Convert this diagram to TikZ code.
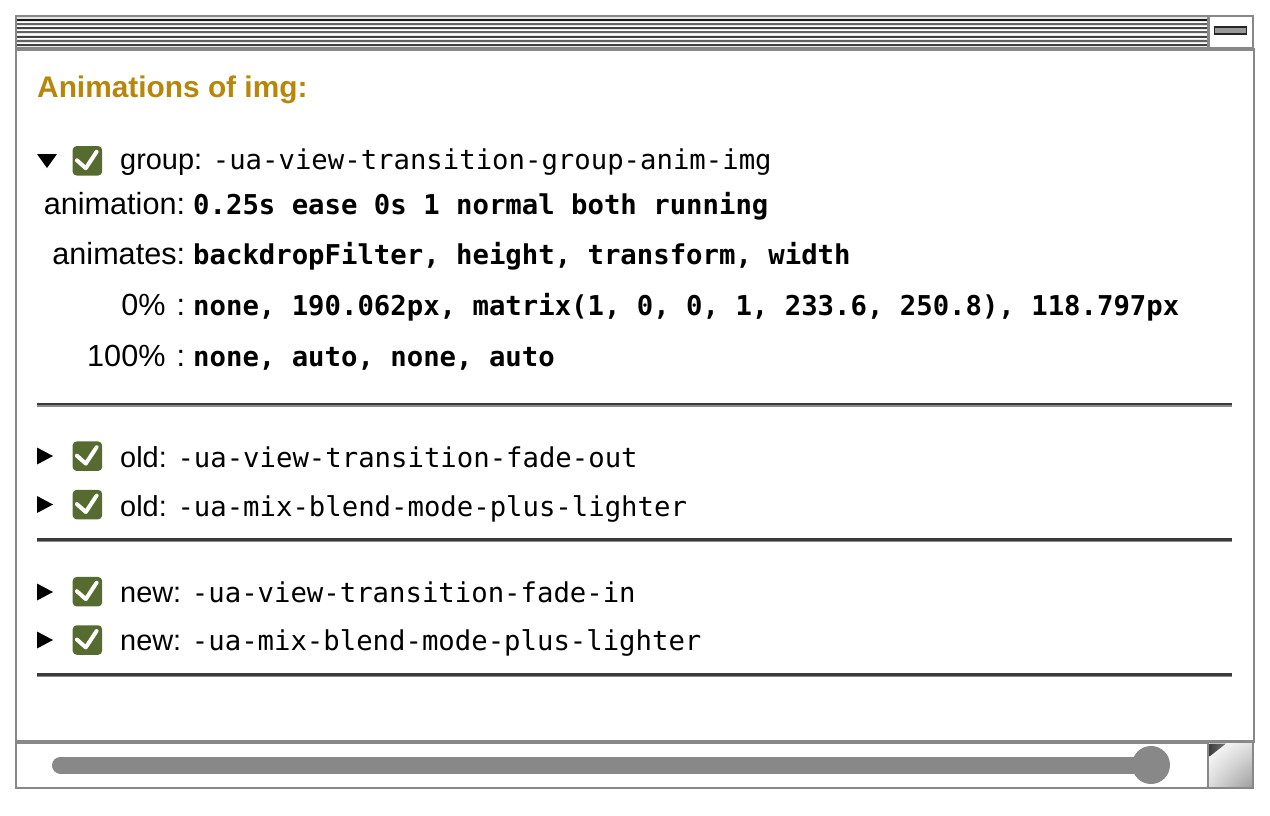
\documentclass[tikz,border=0pt]{standalone}
\usepackage{fontspec}
\usetikzlibrary{shadings}
\setmainfont{Liberation Sans}
\setmonofont{DejaVu Sans Mono}
\definecolor{framegray}{HTML}{888888}
\definecolor{titlegold}{HTML}{B8860B}
\definecolor{boxgreen}{HTML}{556B2F}
\definecolor{sepdark}{HTML}{3A3A3A}
\definecolor{sepgray}{HTML}{8A8A8A}
\newcommand\sansfs{\fontsize{28.9}{32}\selectfont}
\newcommand\lblfs{\fontsize{30.6}{32}\selectfont}
\newcommand\monofs{\fontsize{27.3}{32}\selectfont\ttfamily}
\newcommand\mycheckbox[3]{%
  \node[cbox] (#1) at (#2,#3) {};
  \draw[tick] ([shift={(-10.5,-0.5)}]#1.center) -- ([shift={(-1.6,7.4)}]#1.center) -- ([shift={(9.2,-9)}]#1.center);
}
\newcommand\myright[2]{%
  \fill (37,#2-8.5) -- (53,#2) -- (37,#2+8.5) -- cycle;
}
\tikzset{
  frameline/.style={draw=framegray, line width=2.6pt},
  cbox/.style={fill=boxgreen, rounded corners=4pt, minimum size=29.5pt, inner sep=0pt},
  tick/.style={draw=white, line width=4pt, line cap=round, line join=round},
  rowtext/.style={anchor=base west, inner sep=0pt, font=\sansfs},
  lbl/.style={anchor=base east, inner sep=0pt, font=\lblfs},
  val/.style={anchor=base west, inner sep=0pt, font=\monofs\bfseries},
  sepA/.style={draw=sepdark, line width=2.4pt},
  sepB/.style={draw=sepgray, line width=1.4pt},
}
\begin{document}
\begin{tikzpicture}[x=1pt,y=-1pt]
\useasboundingbox (0,0) rectangle (1270,815);
\fill[white] (0,0) rectangle (1270,815);

% ---------- title bar ----------
\fill[white!90!black] (16,16) rectangle (1208,48);
\foreach \yy/\cc in {19.8/90, 24.0/62, 28.2/75, 32.4/62, 36.6/75, 40.8/62, 45.0/75}{
  \draw[black!\cc!white, line width=2pt] (17,\yy) -- (1207,\yy);
}
\foreach \yy in {22,26.2,30.4,34.6,38.8,43}{
  \draw[white, line width=1pt] (17,\yy) -- (1207,\yy);
}
\draw[frameline] (16,16) rectangle (1253,49);
\draw[framegray, line width=3pt] (1208,16) -- (1208,49);
\draw[framegray, line width=3.4pt] (16,49) -- (1253,49);
\node[draw=black!85, line width=1.6pt, fill=black!40, inner sep=0pt,
      minimum width=32pt, minimum height=7pt] (minbtn) at (1230.5,30.5) {};

% ---------- main window ----------
\draw[frameline] (16,49) rectangle (1254,742);

\node[anchor=base west, inner sep=0pt, font=\fontsize{29.85}{32}\selectfont\bfseries,
      text=titlegold] (title) at (37,97.5) {Animations of img:};

% group row
\fill (37,154) -- (57,154) -- (47,168) -- cycle;
\mycheckbox{cbg}{87.4}{160.8}
\node[rowtext] (grp) at (120,169) {group: {\monofs -ua-view-transition-group-anim-img}};

\node[lbl] (l1) at (185.3,214) {animation:};
\node[val] (v1) at (193,214) {0.25s ease 0s 1 normal both running};
\node[lbl] (l2) at (185.3,264.5) {animates:};
\node[val] (v2) at (193,264.5) {backdropFilter, height, transform, width};
\node[lbl] (l3) at (185.3,315) {0\%\hspace{11.1pt}:};
\node[val] (v3) at (193,315) {none, 190.062px, matrix(1, 0, 0, 1, 233.6, 250.8), 118.797px};
\node[lbl] (l4) at (185.3,366) {100\%\hspace{11.1pt}:};
\node[val] (v4) at (193,366) {none, auto, none, auto};

% separators
\foreach \sy in {404, 539.5, 674.5}{
  \draw[sepA] (37,\sy) -- (1232,\sy);
  \draw[sepB] (37,\sy+1.8) -- (1232,\sy+1.8);
}

% old rows
\myright{o1}{456}
\mycheckbox{cbo1}{87.4}{456.2}
\node[rowtext] (old1) at (120,467.5) {old: {\monofs -ua-view-transition-fade-out}};
\myright{o2}{504.5}
\mycheckbox{cbo2}{87.4}{504.6}
\node[rowtext] (old2) at (120,516) {old: {\monofs -ua-mix-blend-mode-plus-lighter}};

% new rows
\myright{n1}{592}
\mycheckbox{cbn1}{87.4}{591.7}
\node[rowtext] (new1) at (120,602.5) {new: {\monofs -ua-view-transition-fade-in}};
\myright{n2}{640}
\mycheckbox{cbn2}{87.4}{640}
\node[rowtext] (new2) at (120,650.5) {new: {\monofs -ua-mix-blend-mode-plus-lighter}};

% ---------- scrollbar ----------
\draw[frameline] (16,742) rectangle (1253,788);
\draw[framegray, line width=3.2pt] (16,742) -- (1254,742);
\shade[upper left=white, upper right=black!12, lower left=black!14, lower right=black!38]
  (1209,743) rectangle (1252,787);
\shade[left color=black!75, right color=black!55] (1209.5,743.5) -- (1226,743.5) -- (1209.5,756.5) -- cycle;
\draw[framegray, line width=2.6pt] (1208,742) -- (1208,788);
\draw[frameline] (1208,742) rectangle (1253,788);
\coordinate (trackstart) at (60.5,765);
\node[circle, fill=framegray, minimum size=38pt, inner sep=0pt] (thumb) at (1151,765) {};
\draw[framegray, line width=17pt, line cap=round] (trackstart) -- (thumb.center);
\end{tikzpicture}
\end{document}
